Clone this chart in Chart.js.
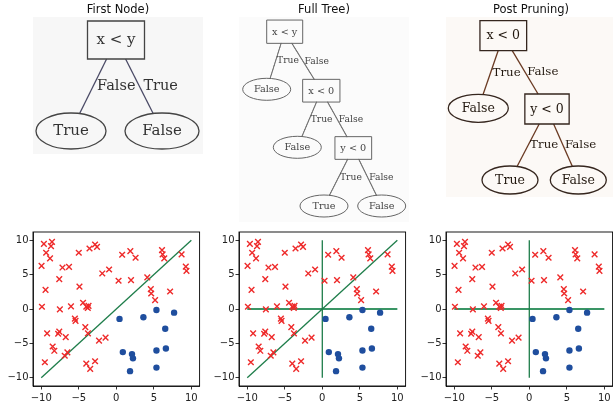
<!DOCTYPE html>
<html>
<head>
<meta charset="utf-8">
<title>Decision tree pruning</title>
<script src="https://cdn.jsdelivr.net/npm/chart.js@4/dist/chart.umd.min.js"></script>
<style>
	html, body { margin: 0; padding: 0; background: #fff; }
	#figure { position: relative; width: 613px; height: 408px; overflow: hidden; }
	#figure canvas { position: absolute; }
</style>
</head>
<body>
<div id="figure"></div>
<script>
// panel titles and axis ticks
var panelTitles = ['First Node)', 'Full Tree)', 'Post Pruning)'];
var axisTicks = [-10, -5, 0, 5, 10];

// class "x" points (red)
var redX = [-9.65, -8.57, -8.7, -9.35, -8.83, -9.96, -9.43, -9.91, -9.22, -9.52, -8.48, -8.26, -7.6, -7.17, -6.3, -7.52, -7.6, -7.75, -6.74, -6.52, -6.87, -6.04, -5.52, -5.43, -4.91, -5.0, -4.43, -4.13, -3.78, -4.0, -3.7, -3.8, -4.0, -3.48, -2.83, -3.57, -2.83, -2.57, -2.3, -1.43, -1.87, -0.96, 0.3, 0.78, 1.87, 2.57, 1.96, 4.13, 4.6, 4.65, 5.17, 6.09, 6.17, 6.39, 7.17, 8.7, 9.26, 9.35];
var redY = [9.47, 9.76, 9.14, 8.18, 7.37, 6.27, 2.78, 0.33, -3.54, -7.75, -5.45, -6.08, 4.35, 6.03, 6.12, -0.05, -3.3, -3.6, -4.1, -6.3, -6.8, 0.38, -1.39, -1.72, 3.25, 8.18, 0.91, -2.63, -3.54, 0.35, 0.45, 0.15, -7.94, -8.71, -7.6, 8.8, 9.38, 9.04, -4.6, -4.16, 5.17, 5.74, 4.11, 7.89, 8.42, 7.46, 4.21, 4.59, 2.9, 2.25, 1.29, 8.56, 7.94, 7.37, 2.54, 7.94, 6.17, 5.55];

// class "o" points (blue)
var blueX = [0.43, 3.61, 5.35, 7.7, 6.52, 0.87, 2.09, 2.22, 1.83, 5.35, 6.61, 5.35];
var blueY = [-1.44, -1.2, -0.14, -0.53, -2.87, -6.27, -6.56, -7.18, -9.04, -6.03, -5.74, -8.52];

// decision boundaries: [x0, y0, x1, y1]
var diagSplit = [-10, -10, 10, 10];
var xSplit = [0, -10, 0, 10];
var ySplit = [-10, 0, 10, 0];
var panelSplits = [[diagSplit], [diagSplit, xSplit, ySplit], [xSplit, ySplit]];

// trees
var tree1Labels = ['x < y', 'True', 'False'];
var tree1Kinds = ['box', 'leaf', 'leaf'];
var tree1Parents = [-1, 0, 0];
var tree1Edges = ['', 'False', 'True'];

var tree2Labels = ['x < y', 'False', 'x < 0', 'False', 'y < 0', 'True', 'False'];
var tree2Kinds = ['box', 'leaf', 'box', 'leaf', 'box', 'leaf', 'leaf'];
var tree2Parents = [-1, 0, 0, 2, 2, 4, 4];
var tree2Edges = ['', 'True', 'False', 'True', 'False', 'True', 'False'];

var tree3Labels = ['x < 0', 'False', 'y < 0', 'True', 'False'];
var tree3Kinds = ['box', 'leaf', 'box', 'leaf', 'leaf'];
var tree3Parents = [-1, 0, 0, 2, 2];
var tree3Edges = ['', 'True', 'False', 'True', 'False'];

var APP = APP || {};
(function () {
	'use strict';

	var panelLeft = [33, 239, 446];
	var green = '#1e7d4a';

	// node layout (graphviz-like positions, in pixels of the tree box)
	var treeLayouts = [
		{
			pos: [[83, 23], [38, 114], [129, 114]],
			size: [[57, 38], [35, 18], [37, 18]],
			bg: [170, 137, '#f7f7f7'], stroke: '#444', text: '#333', lw: 1.3,
			edgeColor: '#4a4a66', edgeMode: 'line',
			nodeFont: 15, edgeFont: 14.5, labelGap: 4
		},
		{
			pos: [[45.7, 14.7], [27.7, 72.3], [82.3, 73.7], [58.3, 130.3], [114.3, 131], [85, 189], [142.7, 189]],
			size: [[36, 23.3], [24, 11], [37.3, 22.7], [24, 11], [36.7, 22.7], [24, 11], [24, 11]],
			bg: [170, 205, '#fbfbfb'], stroke: '#666', text: '#444', lw: 1,
			edgeColor: '#666', edgeMode: 'dots',
			nodeFont: 9.7, edgeFont: 9.2, labelGap: 1.5
		},
		{
			pos: [[57.3, 18.7], [32.3, 91.3], [101, 92], [64, 163], [132.3, 163]],
			size: [[46.7, 30], [30, 14], [44.3, 30], [28, 14], [28, 14]],
			bg: [168, 180, '#fcf9f6'], stroke: '#35261e', text: '#22180f', lw: 1.3,
			edgeColor: '#6a3a22', edgeMode: 'line',
			nodeFont: 12.5, edgeFont: 11.8, labelGap: 2
		}
	];

	function minusFmt(v) {
		return v < 0 ? '\u2212' + Math.abs(v) : String(v);
	}

	function addCanvas(left, top, w, h) {
		var c = document.createElement('canvas');
		c.width = w;
		c.height = h;
		c.style.left = left + 'px';
		c.style.top = top + 'px';
		c.style.width = w + 'px';
		c.style.height = h + 'px';
		document.getElementById('figure').appendChild(c);
		return c;
	}

	// fraction of (dx, dy) from a node centre to its outline
	function clipT(kind, hw, hh, dx, dy) {
		if (kind === 'box') {
			var tx = Math.abs(dx) < 1e-6 ? 1e6 : hw / Math.abs(dx);
			var ty = Math.abs(dy) < 1e-6 ? 1e6 : hh / Math.abs(dy);
			return Math.min(tx, ty);
		}
		return 1 / Math.sqrt((dx / hw) * (dx / hw) + (dy / hh) * (dy / hh));
	}

	APP.figure = {
		init: function () {
			Chart.defaults.font.family = 'DejaVu Sans';
			this.trees();
			this.scatters();
		},

		trees: function () {
			var trees = [
				{ labels: tree1Labels, kinds: tree1Kinds, parents: tree1Parents, edges: tree1Edges },
				{ labels: tree2Labels, kinds: tree2Kinds, parents: tree2Parents, edges: tree2Edges },
				{ labels: tree3Labels, kinds: tree3Kinds, parents: tree3Parents, edges: tree3Edges }
			];
			trees.forEach(function (tree, p) {
				var lay = treeLayouts[p];
				var canvas = addCanvas(panelLeft[p], 0, 170, 227);

				var treePlugin = {
					id: 'tree' + p,
					beforeDatasetsDraw: function (chart) {
						var ctx = chart.ctx, xs = chart.scales.x, ys = chart.scales.y;
						ctx.save();
						ctx.fillStyle = lay.bg[2];
						ctx.fillRect(xs.getPixelForValue(0), ys.getPixelForValue(0),
							xs.getPixelForValue(lay.bg[0]) - xs.getPixelForValue(0),
							ys.getPixelForValue(lay.bg[1]) - ys.getPixelForValue(0));
						ctx.fillStyle = '#111';
						ctx.font = '11.5px DejaVu Sans';
						ctx.textAlign = 'center';
						ctx.textBaseline = 'alphabetic';
						ctx.fillText(panelTitles[p], (chart.chartArea.left + chart.chartArea.right) / 2, 12.5);
						ctx.restore();
					},
					afterDraw: function (chart) {
						var ctx = chart.ctx, xs = chart.scales.x, ys = chart.scales.y;
						var nodes = chart.getDatasetMeta(0).data.map(function (el) {
							return { x: el.x, y: el.y };
						});
						var px = function (v) { return Math.abs(xs.getPixelForValue(v) - xs.getPixelForValue(0)); };
						var py = function (v) { return Math.abs(ys.getPixelForValue(v) - ys.getPixelForValue(0)); };
						var half = function (i) {
							var s = lay.size[i];
							return tree.kinds[i] === 'box' ? [px(s[0]) / 2, py(s[1]) / 2] : [px(s[0]), py(s[1])];
						};

						ctx.save();
						// edges
						var mids = [];
						tree.parents.forEach(function (par, i) {
							if (par < 0) {
								return;
							}
							var a = nodes[par], b = nodes[i];
							var dx = b.x - a.x, dy = b.y - a.y;
							var ha = half(par), hb = half(i);
							var t0 = clipT(tree.kinds[par], ha[0], ha[1], dx, dy);
							var t1 = 1 - clipT(tree.kinds[i], hb[0], hb[1], dx, dy);
							var x0 = a.x + dx * t0, y0 = a.y + dy * t0;
							var x1 = a.x + dx * t1, y1 = a.y + dy * t1;
							if (lay.edgeMode === 'dots') {
								var len = Math.sqrt((x1 - x0) * (x1 - x0) + (y1 - y0) * (y1 - y0));
								var steps = Math.ceil(len / 0.5);
								ctx.fillStyle = lay.edgeColor;
								for (var k = 0; k <= steps; k++) {
									ctx.beginPath();
									ctx.arc(x0 + (x1 - x0) * k / steps, y0 + (y1 - y0) * k / steps, lay.lw / 2, 0, Math.PI * 2);
									ctx.fill();
								}
							} else {
								ctx.beginPath();
								ctx.moveTo(x0, y0);
								ctx.lineTo(x1, y1);
								ctx.strokeStyle = lay.edgeColor;
								ctx.lineWidth = lay.lw;
								ctx.stroke();
							}
							mids.push({ i: i, x: (x0 + x1) / 2, y: (y0 + y1) / 2 });
						});

						// node outlines
						nodes.forEach(function (n, i) {
							var h = half(i);
							ctx.beginPath();
							if (tree.kinds[i] === 'box') {
								ctx.rect(n.x - h[0], n.y - h[1], h[0] * 2, h[1] * 2);
							} else {
								ctx.ellipse(n.x, n.y, h[0], h[1], 0, 0, Math.PI * 2);
							}
							ctx.strokeStyle = lay.stroke;
							ctx.lineWidth = lay.lw;
							ctx.stroke();
						});

						ctx.fillStyle = lay.text;
						ctx.font = lay.edgeFont + 'px DejaVu Serif';
						ctx.textAlign = 'left';
						ctx.textBaseline = 'middle';
						mids.forEach(function (m) {
							ctx.fillText(tree.edges[m.i], m.x + lay.labelGap, m.y);
						});

						ctx.font = lay.nodeFont + 'px DejaVu Serif';
						ctx.textAlign = 'center';
						nodes.forEach(function (n, i) {
							ctx.fillText(tree.labels[i], n.x, n.y + 0.5);
						});
						ctx.restore();
					}
				};

				new Chart(canvas, {
					type: 'scatter',
					data: {
						datasets: [{
							data: lay.pos.map(function (q) { return { x: q[0], y: q[1] }; }),
							pointRadius: 0
						}]
					},
					options: {
						responsive: false,
						animation: false,
						devicePixelRatio: 1,
						events: [],
						layout: { padding: { top: 17 } },
						plugins: { legend: { display: false }, tooltip: { enabled: false } },
						scales: {
							x: { type: 'linear', display: false, min: 0, max: 170 },
							y: { type: 'linear', display: false, min: 0, max: 210, reverse: true }
						}
					},
					plugins: [treePlugin]
				});
			});
		},

		scatters: function () {
			var redPts = redX.map(function (x, i) { return { x: x, y: redY[i] }; });
			var bluePts = blueX.map(function (x, i) { return { x: x, y: blueY[i] }; });

			var framePlugin = {
				id: 'frame',
				afterDraw: function (chart) {
					var a = chart.chartArea, ctx = chart.ctx;
					ctx.save();
					ctx.strokeStyle = '#000';
					ctx.lineWidth = 0.9;
					ctx.strokeRect(a.left, a.top, a.right - a.left, a.bottom - a.top);
					ctx.restore();
				}
			};

			var axis = function (min, max, isX) {
				return {
					type: 'linear',
					min: min,
					max: max,
					afterBuildTicks: function (s) {
						s.ticks = axisTicks.map(function (v) { return { value: v }; });
					},
					afterFit: function (s) {
						if (isX) {
							s.height = 22;
						} else {
							s.width = 33;
						}
					},
					grid: { drawOnChartArea: false, drawTicks: true, tickLength: 3.5, color: '#000', lineWidth: 0.8 },
					border: { display: true, color: '#000', width: 0.8 },
					ticks: {
						font: { size: 10 },
						color: '#222',
						padding: isX ? 3 : 1,
						maxRotation: 0,
						callback: minusFmt
					}
				};
			};

			panelSplits.forEach(function (splits, p) {
				var canvas = addCanvas(panelLeft[p] - 33, 225, 205, 183);
				var datasets = [
					{
						data: bluePts, order: 0, pointStyle: 'circle', pointRadius: 3.2,
						backgroundColor: '#1f4e9e', borderColor: '#1f4e9e', borderWidth: 0
					},
					{
						data: redPts, order: 1, pointStyle: 'crossRot', pointRadius: 4,
						backgroundColor: '#ee2a2a', borderColor: '#ee2a2a', borderWidth: 1.4
					}
				];
				splits.forEach(function (s) {
					var horiz = s[1] === s[3];
					datasets.push({
						data: [{ x: s[0], y: s[1] }, { x: s[2], y: s[3] }],
						order: 2,
						showLine: true,
						pointRadius: 0,
						borderColor: horiz ? '#3a9565' : green,
						borderWidth: horiz ? 2 : 1.3
					});
				});

				new Chart(canvas, {
					type: 'scatter',
					data: { datasets: datasets },
					options: {
						responsive: false,
						animation: false,
						devicePixelRatio: 1,
						events: [],
						layout: { padding: { top: 5, right: 2, left: 0, bottom: 0 } },
						plugins: { legend: { display: false }, tooltip: { enabled: false } },
						scales: {
							x: axis(-11.1, 11.1, true),
							y: axis(-11.2, 11.2, false)
						}
					},
					plugins: [framePlugin]
				});
			});
		}
	};

	document.addEventListener('DOMContentLoaded', function () {
		APP.figure.init();
	});
})();
</script>
</body>
</html>
